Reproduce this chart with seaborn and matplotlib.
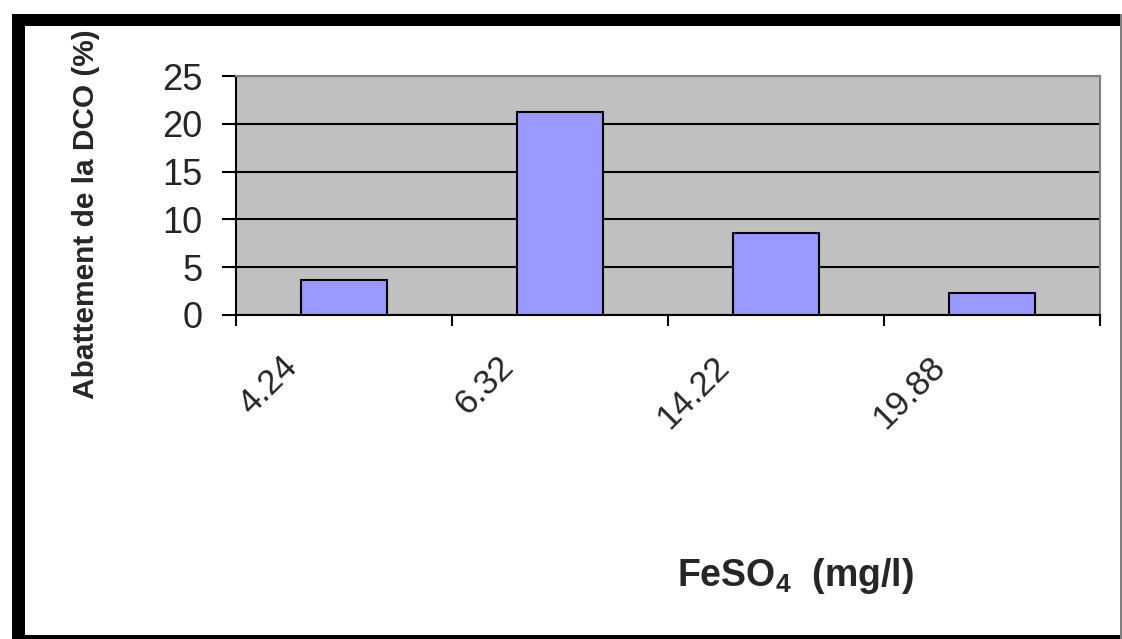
import matplotlib
matplotlib.use("Agg")
import matplotlib.pyplot as plt
import matplotlib.transforms as mtransforms
from matplotlib.patches import Rectangle
import seaborn as sns
import pandas as pd

# ---- data ----
categories = ["4.24", "6.32", "14.22", "19.88"]
values = [3.7, 21.2, 8.6, 2.3]
y_ticks = [0, 5, 10, 15, 20, 25]
y_label = "Abattement de la DCO (%)"
x_label = "FeSO$_4$  (mg/l)"

sns.set_style("white")
plt.rcParams["font.family"] = ["Liberation Sans", "DejaVu Sans"]
plt.rcParams["mathtext.fontset"] = "custom"
plt.rcParams["mathtext.rm"] = "Liberation Sans:bold"
plt.rcParams["mathtext.bf"] = "Liberation Sans:bold"
plt.rcParams["mathtext.default"] = "bf"

W, H = 1122, 639
fig = plt.figure(figsize=(W / 100, H / 100), dpi=100)
fig.patch.set_facecolor("white")

# outer frame
def px_rect(x0, y0, x1, y1, color):
    fig.add_artist(Rectangle((x0 / W, 1 - y1 / H), (x1 - x0) / W, (y1 - y0) / H,
                             transform=fig.transFigure, facecolor=color,
                             edgecolor="none", zorder=0))

px_rect(12, 14, W, 26, "black")       # top
px_rect(12, 14, 25, H, "black")       # left
px_rect(12, 635, W, H, "black")       # bottom
px_rect(1120, 14, 1122, H, "#808080")  # right thin

left, right, top, bottom = 236, 1100, 76, 315
ax = fig.add_axes([left / W, 1 - bottom / H, (right - left) / W, (bottom - top) / H])
ax.set_facecolor("#C0C0C0")

df = pd.DataFrame({"cat": categories, "val": values})
sns.barplot(data=df, x="cat", y="val", ax=ax, color="#9999FF", saturation=1,
            width=0.4, edgecolor="black", linewidth=1.5, zorder=3)

ax.set_xlim(-0.5, len(categories) - 0.5)
ax.set_ylim(0, 25)
ax.set_yticks(y_ticks)
ax.set_yticklabels([str(t) for t in y_ticks], fontsize=26)
ax.yaxis.grid(True, color="black", linewidth=1.5, zorder=1)
ax.set_axisbelow(True)

for s in ["left", "bottom"]:
    ax.spines[s].set_color("black")
    ax.spines[s].set_linewidth(1.5)
for s in ["top", "right"]:
    ax.spines[s].set_color("#808080")
    ax.spines[s].set_linewidth(1.5)

ax.tick_params(axis="y", direction="out", length=10, width=1.5, color="black",
               pad=14, left=True)
# x: labels at centers without ticks, ticks at boundaries
ax.set_xticks(range(len(categories)))
ax.set_xticklabels(categories, fontsize=25, rotation=45, ha="right", va="top")
ax.set_xticks([i - 0.5 for i in range(len(categories) + 1)], minor=True)
ax.tick_params(axis="x", which="major", length=0, pad=25)
ax.tick_params(axis="x", which="minor", direction="out", length=8, width=1.5,
               color="black", bottom=True)
offset = mtransforms.ScaledTranslation(-0.40, 0, fig.dpi_scale_trans)
for lbl in ax.get_xticklabels():
    lbl.set_transform(lbl.get_transform() + offset)

ax.set_ylabel(y_label, fontsize=21.5, fontweight="bold")
ax.yaxis.set_label_coords(-0.157, 0.42)
ax.set_xlabel(x_label, fontsize=27, fontweight="bold")
ax.xaxis.set_label_coords(0.647, -1.01)

fig.savefig("out.png", dpi=100)
